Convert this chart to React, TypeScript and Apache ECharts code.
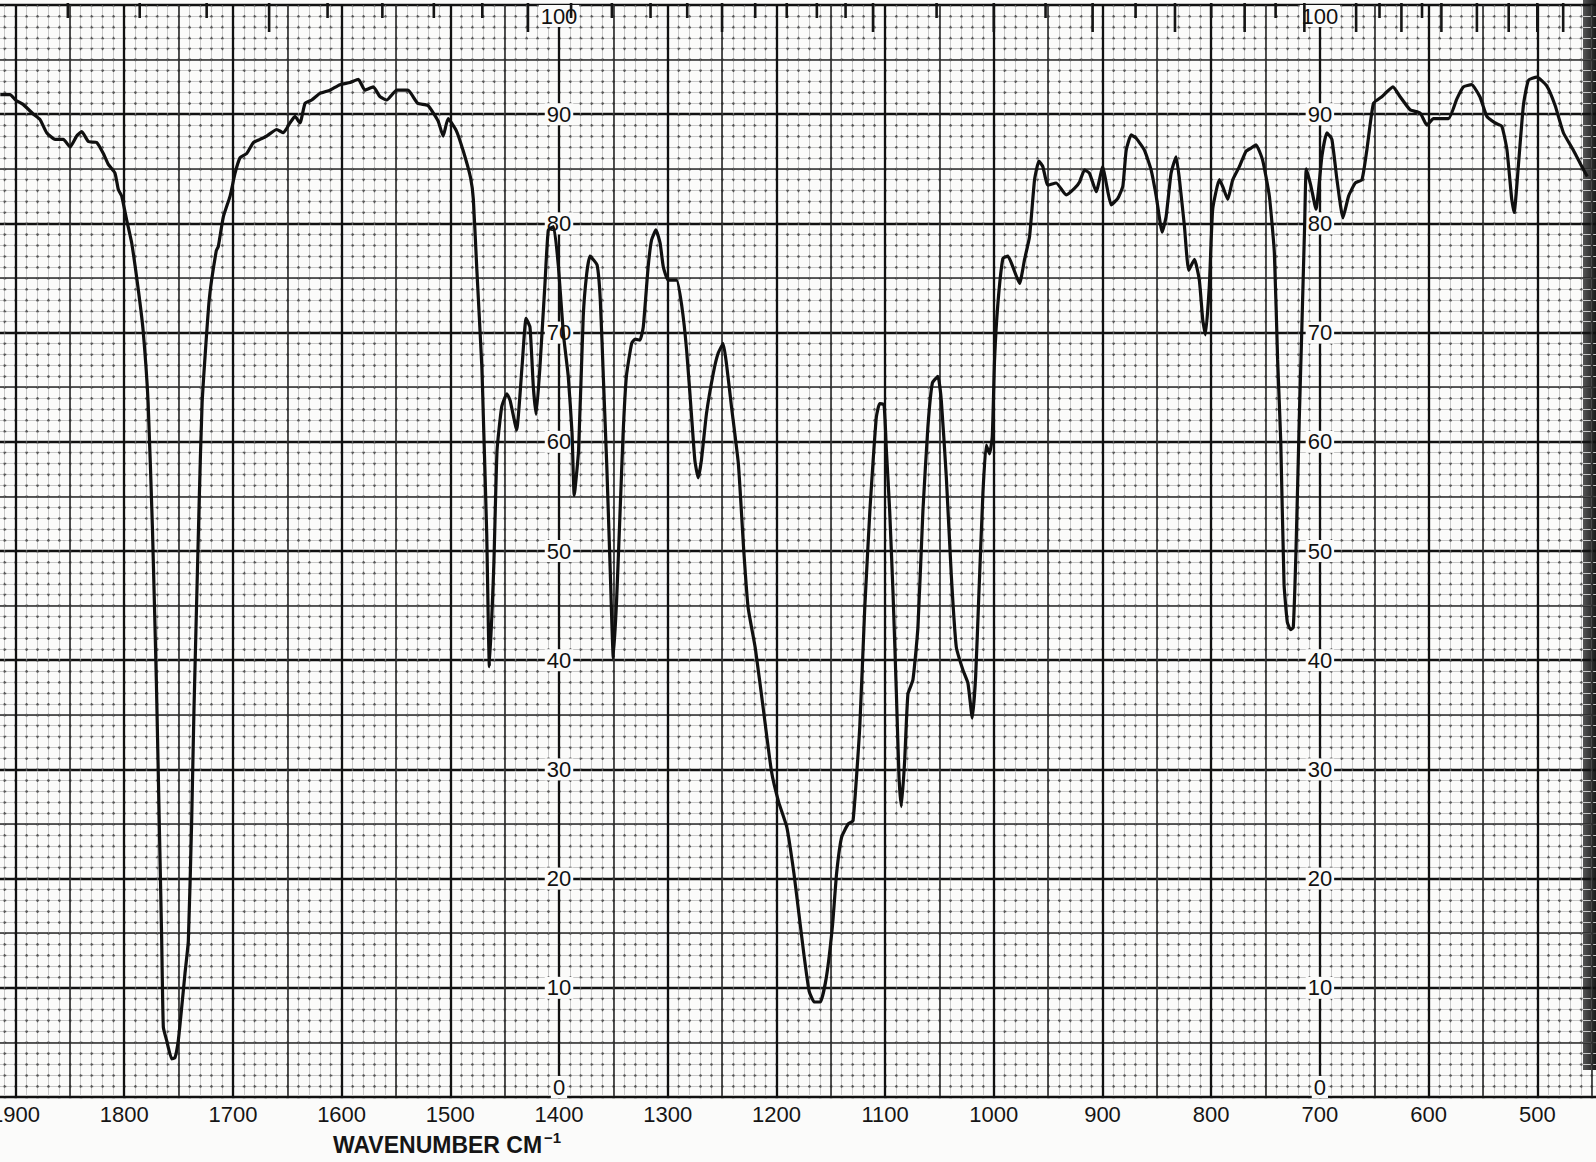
import React, { useEffect, useRef } from "react";
import * as echarts from "echarts";

// Spectrum: wavenumber (cm-1) and % transmittance
const wavenumbers = [
  1914, 1905, 1900, 1893, 1883.5, 1877.4, 1871.3, 1863.6, 1856, 1849.8, 1843.7, 1839, 1833, 1825.3,
  1819.2, 1814.6, 1808.5, 1805.4, 1802.3, 1797.7, 1793.1, 1787, 1782.6, 1778, 1774, 1770.4, 1767.5,
  1765.5, 1764, 1761, 1756.3, 1753.3, 1750.2, 1747.1, 1744.1, 1741, 1738, 1735.8, 1731.1, 1728.3,
  1721.8, 1715.3, 1713.4, 1708.8, 1702.6, 1698, 1693.5, 1687.3, 1681.2, 1675, 1668.9, 1659.7, 1653.6,
  1647.5, 1642.9, 1638.3, 1633.6, 1627.5, 1619.9, 1610.7, 1601.5, 1592.3, 1584.6, 1578.5, 1570.8,
  1564.7, 1558.5, 1549.3, 1539, 1530, 1520.6, 1511.3, 1506.6, 1502, 1494.5, 1488, 1481.4, 1478.8,
  1475.7, 1471, 1469.6, 1466.5, 1464, 1460, 1457, 1452.7, 1448, 1445, 1439, 1434, 1430.3, 1426.7,
  1423.6, 1421, 1417.5, 1412.9, 1409.8, 1405, 1400.5, 1396, 1391.5, 1388, 1386, 1382, 1377.7, 1374.5,
  1371.5, 1365, 1362, 1359, 1356, 1353, 1350, 1347, 1344, 1341, 1338, 1333.2, 1330, 1325.6, 1322.5,
  1318, 1314.8, 1310.8, 1307, 1304, 1299.5, 1291.8, 1287, 1282.6, 1278, 1275, 1272, 1269, 1264.3,
  1258, 1253.6, 1249, 1246, 1241.3, 1235, 1230, 1226, 1219.4, 1212, 1204.5, 1197.9, 1190.4, 1183.9,
  1179.2, 1174.5, 1169.9, 1165.2, 1159.6, 1154, 1148.4, 1144.6, 1140, 1134, 1129.5, 1123.3, 1118.8,
  1114, 1111, 1108, 1105, 1101, 1098.8, 1095.8, 1092.7, 1089.6, 1087.2, 1085, 1082, 1079, 1074.4,
  1069.8, 1065.2, 1060.6, 1056.5, 1051.4, 1048.3, 1043.7, 1039, 1034.5, 1028.4, 1023.8, 1019.8,
  1016.7, 1013.7, 1010, 1007, 1003.9, 1001.4, 999.3, 996.2, 991.6, 987, 982.4, 976.3, 971.7, 967.1,
  962.5, 958.5, 954.9, 950.3, 942.6, 933.4, 925.8, 921.1, 916.5, 912, 905.8, 899.7, 896.6, 892,
  885.9, 881.3, 878.2, 873.6, 869, 861.4, 855.3, 850.6, 845.1, 841.5, 836.9, 832.3, 829.2, 824.6,
  820.7, 815.4, 810.9, 807.8, 805.3, 801.7, 798.6, 792.5, 789.5, 784.8, 780.2, 774.1, 768, 763.3,
  758.8, 752.7, 746.5, 741.9, 738.9, 736, 733, 730, 727, 724.5, 722, 719, 717, 714, 712.5, 708.2,
  703.6, 698.1, 693.6, 689, 684.3, 678.8, 673.6, 667.5, 661.3, 656.7, 650.7, 643, 632.8, 626.2, 617,
  607.7, 601.6, 595.5, 581.7, 574, 568, 560.4, 552.8, 546.4, 538.8, 532.7, 528, 523.5, 521.3, 517.4,
  512.8, 508.2, 500.5, 491.3, 483.6, 476, 466.8, 459, 454,
];
const transmittance = [
  91.8, 91.8, 91.3, 90.9, 90.0, 89.5, 88.3, 87.7, 87.7, 87.0, 88.0, 88.4, 87.5, 87.4,
  86.4, 85.4, 84.6, 83.1, 82.5, 80.3, 78.2, 73.9, 70.2, 63.6, 52, 38, 24,
  14.3, 6.4, 5.2, 3.5, 3.6, 5.2, 8.2, 11.3, 14.3, 25, 35.5, 54.2, 63.6,
  73, 77.5, 77.9, 80.6, 82.5, 84.6, 86.0, 86.4, 87.4, 87.7, 88.0, 88.6, 88.3,
  89.2, 89.8, 89.2, 91.0, 91.3, 91.9, 92.2, 92.7, 92.9, 93.2, 92.2, 92.5,
  91.6, 91.3, 92.2, 92.2, 91.0, 90.8, 89.4, 88.0, 89.6, 88.5, 86.6, 84.2, 82.2,
  76.0, 66.9, 62.3, 51.6, 39.4, 48.6, 59.2, 63.2, 64.4, 63.8, 61.1, 66.9, 71.3, 70.5,
  65.0, 62.5, 66.9, 74.5, 79.4, 79.7, 76.0, 69.9, 66.0, 60.8, 55.1, 59.2, 71.5, 75.4,
  77.0, 76.2, 73.0, 65.4, 57.7, 48.6, 40.2, 45.5, 53.1, 60.8, 66.0, 69.0, 69.4, 69.3, 70.5,
  76.0, 78.5, 79.4, 78.2, 76.0, 74.8, 74.8, 72.4, 68.4, 62.3, 58.3, 56.7, 58.3, 62.6,
  66.3, 68.1, 69.0, 67.2, 63.2, 58.0, 50, 44.8, 41.1, 35.5, 29.8, 27.0, 24.7, 20.5,
  16.7, 12.9, 9.7, 8.7, 8.7, 11.0, 15.7, 20.5, 23.8, 25, 25.3, 33.9, 44.6,
  53.7, 58.3, 62.3, 63.5, 63.4, 59.2, 53.7, 46.1, 36.9, 29.3, 26.6, 30.8, 36.9, 38.2,
  43.0, 53.7, 61.4, 65.4, 66.0, 63.8, 56.8, 47.6, 41.2, 39.1, 37.9, 34.7,
  38.5, 46.1, 55.3, 59.7, 58.9, 60.5, 67.5, 72.7, 76.8, 77.0, 76.0, 74.5, 76.7, 78.8,
  84.0, 85.7, 85.2, 83.5, 83.7, 82.6, 83.2, 83.8, 84.9, 84.6, 82.9, 85.2, 83.7, 81.7,
  82.3, 83.4, 86.7, 88.1, 87.8, 86.7, 84.9, 82.5, 79.2, 80.6, 84.6, 86.1, 84.0, 79.7,
  75.7, 76.7, 74.8, 71.2, 69.8, 74.3, 81.3, 84.0, 83.4, 82.2, 84.0, 85.2, 86.6, 86.9,
  87.2, 85.8, 82.5, 77.3, 67.5, 60, 47, 43.5, 42.8, 43, 50, 62, 69, 80, 85, 83.4,
  81.3, 86.2, 88.3, 87.7, 84.0, 80.5, 82.5, 83.7, 84.0, 86.8, 91.0, 91.6, 92.5, 91.6, 90.4,
  90.1, 89.0, 89.6, 89.6, 91.4, 92.5, 92.7, 91.6, 89.8, 89.2, 88.9, 86.8, 82.2, 81.0, 85.3,
  90.8, 93.1, 93.4, 92.6, 90.8, 88.3, 86.7, 85.2, 84.3,
];

// Bottom axis labels (wavenumber) that the chart prints
const wavenumberLabels = [1900, 1800, 1700, 1600, 1500, 1400, 1300, 1200, 1100, 1000, 900, 800, 700, 600, 500];

// Percent labels printed on the 1400 and 700 cm-1 lines
const percentLabels = [0, 10, 20, 30, 40, 50, 60, 70, 80, 90, 100];
const percentLabelLines = [1400, 700];

// Wavelength (micron) tick marks hanging from the top edge
const wavelengthTicks = [
  5.4, 5.6, 5.8, 6, 6.2, 6.4, 6.6, 6.8, 7, 7.2, 7.4, 7.6, 7.8, 8, 8.2, 8.4, 8.6, 8.8, 9,
  9.5, 10, 10.5, 11, 11.5, 12, 12.5, 13, 13.5, 14, 15, 15.5, 16, 16.5, 17, 18, 19, 20, 21,
];

const PAPER = "#fbfbfa";
const SANS = "'Liberation Sans', Arial, sans-serif";

export default function App() {
  const ref = useRef<HTMLDivElement>(null);

  useEffect(() => {
    document.body.style.margin = "0";
    const chart = echarts.init(ref.current!, null, { renderer: "svg" });

    // 1400 cm-1 at x=559, 108.7 px per 100 cm-1; 0 % at y=1097, 100 % at y=5
    const gridRect = { left: -93.2, top: 5, width: 1739.2, height: 1092 };
    const layers = [
      { xi: 10, yi: 1, color: "#c8c8c8", width: 1 },
      { xi: 10, yi: 1, color: "#5a5a5a", width: 1.3, dashX: [2.6, 8.32], dashY: [2.6, 8.27] },
      { xi: 50, yi: 5, color: "#2a2a2a", width: 1.6 },
      { xi: 100, yi: 10, color: "#111", width: 2.3 },
    ];

    const grids = layers.map(() => ({
      ...gridRect,
      containLabel: false,
      outerBoundsMode: "none",
    }));
    const xAxes = layers.map((l: any, i) => ({
      gridIndex: i,
      type: "value",
      min: 400,
      max: 2000,
      inverse: true,
      interval: l.xi,
      axisLine: { show: i === 3, lineStyle: { color: "#111", width: 2.2 } },
      axisTick: { show: false },
      axisLabel: {
        show: i === 3,
        margin: 6,
        fontSize: 22,
        fontFamily: SANS,
        color: "#151515",
        formatter: (v: number) => (wavenumberLabels.includes(v) ? String(v) : ""),
      },
      splitLine: {
        show: true,
        lineStyle: {
          color: l.color,
          width: l.width,
          type: l.dashX ? l.dashX : "solid",
          dashOffset: 1.3,
        },
      },
    }));
    const yAxes = layers.map((l: any, i) => ({
      gridIndex: i,
      type: "value",
      min: 0,
      max: 100,
      interval: l.yi,
      axisLine: { show: false },
      axisTick: { show: false },
      axisLabel: { show: false },
      splitLine: {
        show: true,
        lineStyle: {
          color: l.color,
          width: l.width,
          type: l.dashY ? l.dashY : "solid",
          dashOffset: 1.3,
        },
      },
    }));

    const spectrum = wavenumbers.map((w, i) => [w, transmittance[i]]);

    const labelData: any[] = [];
    percentLabelLines.forEach((w) => {
      percentLabels.forEach((t) => {
        const item: any = { value: [w, t] };
        if (t === 100) item.label = { offset: [0, 11] };
        if (t === 0) item.label = { offset: [0, -10] };
        labelData.push(item);
      });
    });

    const tickData = wavelengthTicks.map((wl) => [10000 / wl, Number.isInteger(wl) ? 1 : 0]);

    chart.setOption({
      animation: false,
      backgroundColor: PAPER,
      grid: grids,
      xAxis: xAxes,
      yAxis: yAxes,
      series: [
        {
          type: "scatter",
          xAxisIndex: 3,
          yAxisIndex: 3,
          z: 3,
          symbolSize: 0,
          silent: true,
          itemStyle: { opacity: 1 },
          data: labelData,
          label: {
            show: true,
            position: "inside",
            formatter: (p: any) => String(p.value[1]),
            fontSize: 22,
            fontFamily: SANS,
            color: "#111",
            opacity: 1,
            textBorderWidth: 0,
            backgroundColor: PAPER,
            padding: [0, 2],
          },
        },
        {
          type: "custom",
          xAxisIndex: 3,
          yAxisIndex: 3,
          z: 4,
          clip: false,
          silent: true,
          data: tickData,
          renderItem: (_params: any, api: any) => {
            const p = api.coord([api.value(0), 100]);
            const len = api.value(1) ? 27 : 13;
            return {
              type: "line",
              shape: { x1: p[0], y1: p[1] - 2, x2: p[0], y2: p[1] + len },
              style: { stroke: "#151515", lineWidth: 2.6 },
            };
          },
        },
        {
          type: "line",
          xAxisIndex: 3,
          yAxisIndex: 3,
          z: 6,
          data: spectrum,
          showSymbol: false,
          symbol: "none",
          smooth: 0.15,
          lineStyle: { color: "#101010", width: 3.2 },
          silent: true,
        },
      ],
      graphic: [
        {
          type: "text",
          left: 333,
          top: 1130,
          style: {
            text: "{a|WAVENUMBER CM}{b|−1}",
            fill: "#151515",
            rich: {
              a: { fontSize: 23, fontWeight: "bold", fontFamily: SANS, fill: "#151515" },
              b: { fontSize: 15, fontWeight: "bold", fontFamily: SANS, fill: "#151515", padding: [0, 0, 14, 2] },
            },
          },
        },
        {
          type: "rect",
          right: 0,
          top: 0,
          shape: { width: 13, height: 1070 },
          style: {
            fill: new echarts.graphic.LinearGradient(0, 0, 1, 0, [
              { offset: 0, color: "#555" },
              { offset: 1, color: "#1a1a1a" },
            ]),
          },
          silent: true,
        },
      ],
    });

    return () => chart.dispose();
  }, []);

  return (
    <div
      ref={ref}
      style={{ position: "absolute", left: 0, top: 0, width: 1596, height: 1162 }}
    />
  );
}
